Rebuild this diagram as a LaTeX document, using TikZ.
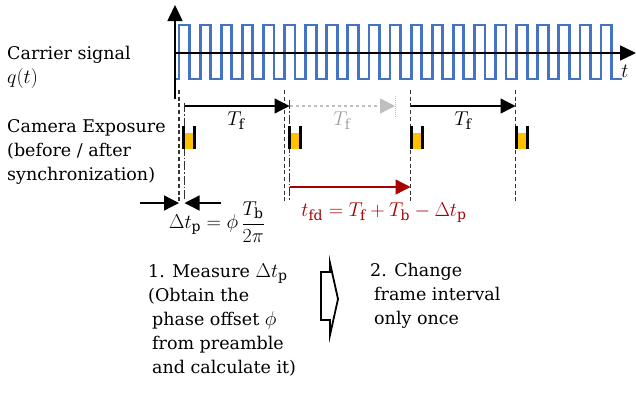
\RequirePackage{fix-cm}
\documentclass[tikz,border=0pt]{standalone}
\usepackage{fontspec}
\setmainfont{DejaVu Serif}
\usetikzlibrary{arrows.meta}
\definecolor{carrierblue}{HTML}{4472C4}
\definecolor{fdred}{HTML}{A80000}
\definecolor{exposure}{HTML}{FFC000}
\definecolor{ghostgray}{HTML}{BFBFBF}
\newcommand\bodysize{\fontsize{17.5}{24}\selectfont}
\newcommand\mathsize{\fontsize{20}{24}\selectfont}

\begin{document}
\begin{tikzpicture}[x=1pt,y=-1pt,
  axis/.style={draw,line width=1.6pt,-{Triangle[length=16pt,width=15pt]}},
  carrier/.style={draw=carrierblue,line width=2.8pt},
  timing/.style={draw,line width=1.3pt,-{Triangle[length=15pt,width=15pt]}},
  ghost/.style={timing,ghostgray,dashed},
  refline/.style={draw=black!80,line width=1.5pt,dash pattern=on 4pt off 2.7pt},
  expline/.style={draw=black!80,line width=1.3pt,
    dash pattern=on 9pt off 2pt on 1.5pt off 2pt},
  txt/.style={align=left,inner sep=0pt,font=\bodysize},
  mathlbl/.style={inner sep=0pt,font=\mathsize},
  blockarrow/.style={draw,line width=1.8pt,fill=white,line join=miter}]
\useasboundingbox (0,0) rectangle (636,394);

% carrier signal q(t)
\draw[carrier] (175.5,79)
  \foreach \k in {0,...,20} {
    -- ({179+21.1*\k},79) -- ({179+21.1*\k},25)
    -- ({189.55+21.1*\k},25) -- ({189.55+21.1*\k},79)}
  -- (622,79);

% axes
\coordinate (ybot) at (175,99);
\coordinate (ytop) at (175,5);
\coordinate (origin) at (175,53);
\coordinate (xend) at (636,53);
\draw[axis] (ybot) -- (ytop);
\draw[axis] (origin) -- (xend);
\node[mathlbl] (tlabel) at (625,71) {$t$};

% labels on the left
\node[txt,anchor=west] (carrierlbl) at (7,67)
  {Carrier signal\\{\mathsize$q(t)$}};
\node[txt,anchor=west] (cameralbl) at (7,152)
  {Camera Exposure\\(before / after\\synchronization)};

% reference and exposure instants
\coordinate (ref1) at (179,90);
\coordinate (ref2) at (284.5,90);
\coordinate (ref3) at (410.5,90);
\coordinate (ref4) at (515.5,90);
\coordinate (exp1) at (184.5,103);
\coordinate (exp2) at (289.5,100);
\coordinate (ghostend) at (395,96);
\coordinate (linebot) at (0,202);
\coordinate (tfrow) at (0,106);
\coordinate (fdrow) at (0,187);
\coordinate (dtrow) at (0,203);
\foreach \r in {ref1,ref2,ref3,ref4}
  \draw[refline] (\r) -- (\r |- linebot);
\draw[expline] (exp1) -- ++(0,97);
\draw[expline] (exp2) -- ++(0,100);
\draw[ghostgray,line width=1pt,densely dotted] (ghostend) -- ++(0,21);

% camera exposures
\foreach \x in {182,288,410,515} {
  \fill[exposure] (\x+2.5,133) rectangle (\x+11,149);
  \fill (\x,126) rectangle (\x+2.5,149);
  \fill (\x+11,126) rectangle (\x+13.5,149);
}

% frame intervals
\draw[timing] (exp1 |- tfrow) -- (exp2 |- tfrow);
\draw[ghost] (exp2 |- tfrow) -- (ghostend |- tfrow);
\draw[timing] (ref3 |- tfrow) -- (ref4 |- tfrow);
\node[mathlbl] (tf1) at (236,121) {$T_{\mathrm{f}}$};
\node[mathlbl,text=ghostgray!85!black] (tf2) at (342,121) {$T_{\mathrm{f}}$};
\node[mathlbl] (tf3) at (463,121) {$T_{\mathrm{f}}$};

% changed frame interval
\draw[timing,fdred] (exp2 |- fdrow) -- (ref3 |- fdrow);
\node[mathlbl,text=fdred] (tfd) at (384,213)
  {$t_{\mathrm{fd}}=T_{\mathrm{f}}+T_{\mathrm{b}}-\Delta t_{\mathrm{p}}$};

% phase offset
\coordinate (dtleft) at (140,203);
\coordinate (dtright) at (221,203);
\draw[timing] (dtleft) -- (ref1 |- dtrow);
\draw[timing] (dtright) -- (exp1 |- dtrow);
\node[mathlbl] (dtp) at (217,222)
  {$\Delta t_{\mathrm{p}}=\phi\,\displaystyle\frac{T_{\mathrm{b}}}{2\pi}$};

% steps
\node[txt,anchor=west] (step1) at (148,320)
  {1. Measure {\mathsize$\Delta t_{\mathrm{p}}$}\\(Obtain the\\
   \hspace*{4pt}phase offset {\mathsize$\phi$}\\
   \hspace*{4pt}from preamble\\\hspace*{4pt}and calculate it)};
\draw[blockarrow] (321,272) -- (330,272) -- (330,263) -- (338,299)
  -- (330,335) -- (330,320) -- (321,320) -- cycle;
\node[txt,anchor=west] (step2) at (370,296)
  {2. Change\\\hspace*{4pt}frame interval\\\hspace*{4pt}only once};
\end{tikzpicture}
\end{document}
